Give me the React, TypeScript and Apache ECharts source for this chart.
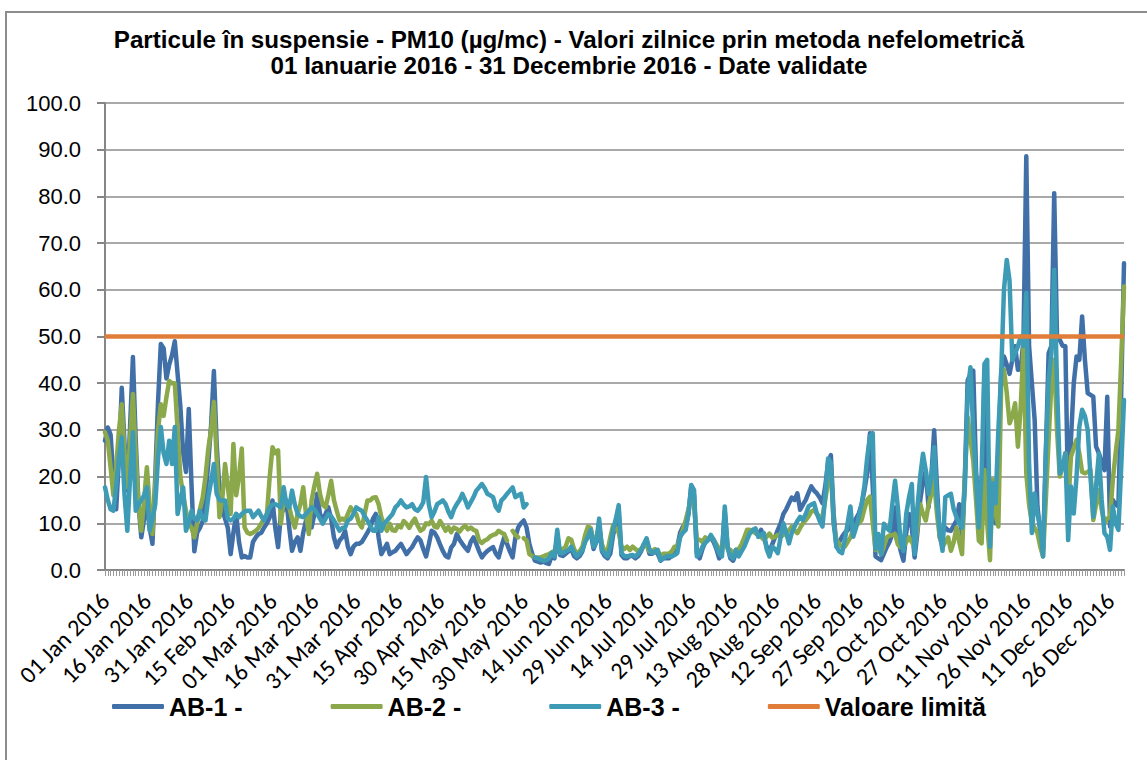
import React, { useEffect, useRef } from "react";
import * as echarts from "echarts";

const TITLE_LINE_1 = "Particule în suspensie - PM10 (µg/mc) - Valori zilnice prin metoda nefelometrică";
const TITLE_LINE_2 = "01 Ianuarie 2016 - 31 Decembrie 2016 - Date validate";
const SERIES_NAMES = ["AB-1 -", "AB-2 -", "AB-3 -", "Valoare limită"];
const MONTHS = ["Jan", "Feb", "Mar", "Apr", "May", "Jun", "Jul", "Aug", "Sep", "Oct", "Nov", "Dec"];
const YEAR = 2016;
const DAY_COUNT = 366;
const LIMIT = 50;
const Y_MIN = 0;
const Y_MAX = 100;
const Y_STEP = 10;

// AB-1 daily values (Jan..Dec)
const AB1 = [
  27.7, 30.5, 29, 20, 13, 24, 39, 27, 17, 31, 45.6, 28, 14, 7, 11, 14, 9, 5.6, 20, 36, 48.4, 47.5, 41, 44, 46, 49, 42, 35, 25, 21, 34.5,
  18, 4, 8, 9, 10.5, 16, 23, 31, 42.6, 27, 17, 13, 11, 9, 3.4, 8, 12, 6, 2.7, 3, 2.7, 2.7, 6, 7, 7.7, 8, 9.1, 10, 11.3,
  14.9, 9, 4.9, 12, 13, 14.9, 9, 4.1, 6, 7, 4.1, 8, 10.6, 9.5, 9.1, 12, 16.3, 12, 10.6, 12, 13.4, 11, 7, 4.9, 6.3, 7, 8.4, 5, 3.4, 5, 5.6,
  5.6, 6, 7, 8, 9.1, 11, 12, 7, 3.4, 4.5, 5.6, 3.4, 3.8, 4.1, 4.9, 5.6, 4.5, 3.4, 4.2, 4.9, 6, 7, 6.3, 4.5, 2.9, 5.5, 8.4, 8, 7, 5.5,
  4.1, 3, 2.7, 4.8, 5.6, 7.7, 6.5, 5.6, 4.8, 4.1, 6, 7, 5.6, 4, 2.7, 3.5, 4.1, 4.5, 4.9, 3.5, 2.7, 5, 7, 5.6, 4, 2.7, 7, 9.1, 10, 10.6, 9.1,
  5.6, 3.5, 2, 1.8, 1.6, 1.8, 1.5, 1.3, 3, 2.5, 7.5, 3.2, 3, 3.5, 4, 4.5, 3, 2.5, 3, 4, 6.5, 7.5, 8, 4.5, 6, 10, 4, 3, 2.5, 3.5,
  7.5, 10, 12.5, 3.2, 2.5, 2.5, 3, 3, 2.5, 3, 4, 5.5, 6, 3.5, 3.5, 4, 3.5, 2, 2.5, 2.5, 2.5, 3, 3.5, 5, 8, 9.3, 9.5, 12, 18, 16, 3.5,
  2.5, 4.5, 6, 6.5, 7, 6, 4.5, 2.5, 4, 12.5, 5, 2.5, 2, 3.6, 3.5, 4.5, 5.7, 7, 8, 8.6, 8, 7.5, 8.6, 7, 5, 4, 5.5, 7, 8.6, 10, 12,
  13, 14.3, 15.5, 15, 16.4, 12.9, 14, 15, 16.5, 17.9, 17, 16.4, 15.5, 14.3, 18, 23, 24.6, 12, 5, 6, 7.1, 8, 8.5, 9.3, 10, 11, 12.1, 14, 17, 20.7,
  29.3, 18, 2.9, 2.5, 2.1, 3.5, 4.9, 6, 7.7, 13.4, 7, 4.1, 2, 8, 12, 9.1, 2.7, 8, 14.9, 19, 21.3, 13.4, 20, 29.9, 18, 7, 8, 9.1, 8.5, 8.4, 9.5,
  10.6, 14.1, 7, 20, 40.6, 42, 42.7, 21.3, 12.1, 7.7, 41.3, 20.7, 10, 12, 10, 25, 42, 45.7, 44, 42, 45, 47.9, 42.9, 43, 49.3, 88.6, 48, 40, 32.1, 13.6,
  8, 4.3, 25, 46.4, 48, 80.7, 50, 49.3, 48, 47.9, 14.3, 27.9, 40, 45.7, 45, 54.3, 45, 37.9, 37.5, 37.1, 26.4, 25, 23, 21.4, 37.1, 9.3, 15, 14, 13.6, 38, 65.7,
];

// AB-2 daily values (Jan..Dec), null = missing
const AB2 = [
  29.5, 27.7, 22, 16, 22, 30, 35.5, 25, 17.7, 28, 37.7, 25, 14, 8.4, 15, 22, 14, 7.7, 18, 30, 35.5, 33, 37, 40.5, 40, 40, 30, 20, 16, 12.7, 10,
  9, 7, 10, 13, 15.5, 20, 26, 30, 36, 24, 11.3, 15, 22.7, 18, 12, 27, 16, 20, 26, 9.1, 8, 7.7, 8, 8.4, 9, 10, 11, 12, 20,
  26.3, 25, 25.6, 9.9, 14.9, 14, 13.4, 11, 9.1, 12, 14.1, 17.7, 12, 7.7, 14.9, 18, 20.6, 16.3, 14, 13.4, 16, 19.1, 15, 12.7, 10.6, 11, 10.6, 12, 13.4, 12.5, 12,
  10, 9.1, 12, 14.9, 14.9, 15.5, 15.6, 14.1, 11.3, 9.5, 8.4, 9.9, 8.5, 8.4, 9.5, 9.1, 10.5, 9.9, 9, 10.2, 11, 9.5, 8.4, 8.8, 10, 9.8, 10.6, 9.3, 9.1, 10.5,
  9.5, 8.4, 9.2, 8.1, 9.1, 8.8, 8.2, 9, 9.5, 8.7, 9.1, 8.6, 8.4, 6.3, 5.8, 6.3, 6.6, 7.2, 7.5, 7.7, 8.4, 8, 7.7, 6.3, null, 8.4, 7.5, 7, null, 6.8, 6.3,
  3.4, 3, 2.7, 2.7, 2.7, 2.9, 3.2, 3.4, 3.8, 4.1, 5.5, 4, 4.5, 5, 6.8, 6.5, 4.5, 3.5, 4, 5, 7.5, 9.3, 9, 6, 7, 9, 5.5, 4, 4, 7,
  9.6, 9, 8, 5, 4.5, 5, 4.3, 5, 4.5, 4, 4.5, 5, 5.5, 4, 4, 4.5, 4, 3, 3.5, 3.5, 3.5, 4, 5, 5, 7, 8.6, 10.7, 13, 16, 14, 6.5,
  6.5, 6, 7, 6.5, 7.2, 6.5, 5.5, 4.5, 5, 8, 4.5, 4.3, 3.5, 4.3, 4.5, 5.5, 7, 8.6, 8.6, 8.2, 7.9, 7.5, 7.1, 6.5, 7.1, 7.8, 6.9, 7.1, 7.5, 7.1, 7.5,
  8, 8.5, 9.3, 8.5, 7.9, 9, 10, 10.7, 11.5, 12.5, 12.9, 12, 11.4, 11.4, 15, 19, 21.4, 10, 6.4, 5.5, 5, 5, 6, 7, 8.6, 9.5, 10, 10.7, 13, 15,
  15.7, 10, 4.3, 5, 3.4, 5, 7, 7.4, 7.5, 7.7, 5.5, 4.9, 4.9, 6, 7, 6, 4.9, 9, 14.1, 12, 10.6, 14, 16.3, 19.1, 12, 7, 4.9, 6, 7, 4.1, 6,
  9.1, 6, 3.4, 20, 32.7, 28, 23.4, 14.9, 6.3, 5.7, 21.4, 10, 2.1, 19.3, 12, 9.3, 39.3, 42.9, 38, 31.4, 33, 35.7, 26.4, 35, 47.9, 20.7, 14, 10, 9, 7.9,
  5, 2.9, 15, 27.9, 40, 45, 30, 20, 22, 25, 14.3, 24.3, 26, 27.9, 25, 21, 20.7, 21, 21.4, 10.7, 14, 17.1, 13, 10, 11, 11.4, 19.3, 25, 30, 45, 60.7,
];

// AB-3 daily values (Jan..Dec), null = missing
const AB3 = [
  17.7, 15, 13, 12.7, 18, 24, 28.4, 16, 8.4, 20, 29.5, 12.7, 14, 15, 16, 17.7, 8.4, 11, 14, 24, 30.6, 25, 22.7, 27.7, 22.7, 30.6, 12, 15, 17.7, 8.4, 10,
  12.7, 11, 10.6, 12.7, 11, 10.6, 15.6, 19, 22.7, 16.3, 15, 14.9, 14.9, 11, 10.6, 11, 12, 11.3, 12, 12.5, 12.7, 12.7, 11.3, 12, 12.7, 11.5, 10.6, 12, 13.4,
  14, 14.1, 13.8, 13.4, 17.7, 14, 13.4, 17, 14, 12, 11.5, 11.3, 12, 12.7, 13.4, 13, 12, 11, 9.9, 11, 12, 11.5, 10.6, 9.5, 8.4, 9, 9.1, 10.6, 11, 12, 13.4,
  13, 12.7, 11.5, 10.6, 9.5, 8.4, 8.4, 11.3, 8.4, 10, 10.6, 11.3, 12, 13.4, 14, 14.9, 14, 13.4, 13.6, 14.1, 13, 12.7, 13.4, 14.5, 19.9, 14, 11.3, 12.5, 14.1, 14.5,
  14.9, 14.1, 12.5, 11.3, 13, 14.1, 15, 16.3, 15, 13.4, 14.5, 15.6, 17, 17.7, 18.4, 17.5, 16.3, 16, 15.6, 13.5, 12.7, 14.9, 15.5, 16.3, 17, 17.7, 15.6, 16, 16.3, 13.4, 14.1,
  null, null, 2.7, 2.5, 2.2, 2, 2.1, 2.5, 3.6, 2.9, 8.6, 3.6, 3.6, 4, 4.3, 5, 3.8, 2.9, 3.5, 4.3, 6, 7.1, 8.6, 5, 6, 11, 4.3, 3.5, 2.9, 5,
  8.6, 11, 13.9, 3.6, 3, 2.9, 3.1, 3.2, 2.9, 3.5, 4.3, 5.5, 6.8, 4.5, 3.6, 4, 4.3, 2.1, 2.5, 2.9, 3, 2.9, 3.2, 3.6, 7.1, 8, 8.6, 12, 18.2, 17.1, 2.9,
  3.5, 5, 5.8, 6.4, 7.5, 6.5, 5, 3.5, 2.9, 13.6, 5, 2.9, 2.5, 4.3, 2.9, 4, 5, 6.5, 7.9, 8.5, 8.9, 7.1, 7.5, 7.9, 4.5, 2.9, 5, 4.5, 3.6, 7, 10,
  8, 5.7, 8, 9.3, 10.5, 11.4, 10.7, 12, 13.6, 14, 14.3, 12.1, 10.5, 9.3, 16, 23.9, 22.9, 10, 5, 4, 3.6, 6.4, 10, 13.6, 7.1, 9, 11.4, 14, 17.9, 24,
  28.6, 29.3, 4.5, 7.7, 3.4, 9.9, 9, 8.4, 14, 19.1, 13.4, 6, 4.1, 12, 15.6, 18.4, 3.4, 13.4, 20, 24.9, 21.3, 16.3, 20, 26.3, 14.9, 8, 4.1, 15.6, 16, 16.3, 13,
  11.3, 9.9, 9.1, 17.7, 38, 43.4, 29.9, 19.9, 9.1, 20.7, 44.1, 45, 5, 18.6, 14.3, 30, 42, 60, 66.4, 62, 45, 46.4, 47.9, 50, 48, 59.3, 22.9, 7.9, 16.4, 12,
  9.3, 2.9, 25, 40.7, 46.4, 64.3, 40, 20.7, 22, 25, 6.4, 17.9, 12.1, 20, 30.7, 34.3, 33, 30, 20, 11.4, 18, 25, 15, 7.9, 7.1, 4.3, 13.6, 10, 8.6, 22, 36.4,
];

const COLORS = ["#4170a9", "#8ba94b", "#3d9bb5", "#e07d38"];

function buildCategories(): string[] {
  const out: string[] = [];
  for (let i = 0; i < DAY_COUNT; i++) {
    const d = new Date(YEAR, 0, 1 + i);
    const dd = String(d.getDate()).padStart(2, "0");
    out.push(`${dd} ${MONTHS[d.getMonth()]} ${d.getFullYear()}`);
  }
  return out;
}

export default function App() {
  const ref = useRef<HTMLDivElement>(null);

  useEffect(() => {
    document.body.style.margin = "0";
    if (!ref.current) return;
    const chart = echarts.init(ref.current, undefined, { renderer: "svg" });
    const categories = buildCategories();
    const font = "Liberation Sans, Arial, sans-serif";
    const gray = "#868686";

    const lineSeries = [AB1, AB2, AB3].map((data, i) => ({
      name: SERIES_NAMES[i],
      type: "line",
      data,
      symbol: "none",
      showSymbol: false,
      connectNulls: false,
      color: COLORS[i],
      lineStyle: { color: COLORS[i], width: 4.5, cap: "round", join: "round" },
      itemStyle: { color: COLORS[i] },
      z: 2 + i,
    }));

    chart.setOption({
      animation: false,
      backgroundColor: "#ffffff",
      graphic: [
        {
          type: "rect",
          shape: { x: 6, y: 12, width: 1170, height: 780 },
          style: { fill: "none", stroke: "#8c8c8c", lineWidth: 2 },
          z: 0,
          silent: true,
        },
        {
          type: "text",
          x: 569,
          y: 39,
          style: {
            text: TITLE_LINE_1,
            textAlign: "center",
            textVerticalAlign: "middle",
            font: `bold 24.2px ${font}`,
            fill: "#000",
          },
        },
        {
          type: "text",
          x: 569,
          y: 65.5,
          style: {
            text: TITLE_LINE_2,
            textAlign: "center",
            textVerticalAlign: "middle",
            font: `bold 24.2px ${font}`,
            fill: "#000",
          },
        },
      ],
      legend: {
        show: true,
        left: 112,
        top: 694,
        itemWidth: 52,
        itemHeight: 5,
        itemGap: 88,
        padding: 0,
        icon: "roundRect",
        data: SERIES_NAMES,
        textStyle: { fontFamily: font, fontWeight: "bold", fontSize: 25, color: "#000" },
      },
      grid: { left: 105, right: 23, top: 103, bottom: 190, containLabel: false },
      xAxis: {
        type: "category",
        data: categories,
        boundaryGap: false,
        axisLine: { show: true, lineStyle: { color: gray, width: 2 } },
        axisTick: { show: true, interval: 0, length: 6, lineStyle: { color: "#9a9a9a", width: 1 } },
        axisLabel: {
          interval: 14,
          rotate: 45,
          margin: 27,
          fontFamily: "Carlito, Lato, sans-serif",
          fontSize: 24,
          color: "#000",
        },
        splitLine: { show: false },
      },
      yAxis: {
        type: "value",
        min: Y_MIN,
        max: Y_MAX,
        interval: Y_STEP,
        axisLine: { show: true, lineStyle: { color: gray, width: 2 } },
        axisTick: { show: true, length: 8, lineStyle: { color: gray, width: 2 } },
        axisLabel: {
          margin: 24,
          fontFamily: font,
          fontSize: 22,
          color: "#000",
          formatter: (v: number) => v.toFixed(1),
        },
        splitLine: { show: true, lineStyle: { color: "#8c8c8c", width: 1.5 } },
      },
      series: [
        ...lineSeries,
        {
          name: SERIES_NAMES[3],
          type: "line",
          data: [],
          symbol: "none",
          color: COLORS[3],
          lineStyle: { color: COLORS[3], width: 4.5 },
          itemStyle: { color: COLORS[3] },
          z: 10,
          markLine: {
            silent: true,
            symbol: "none",
            label: { show: false },
            lineStyle: { color: COLORS[3], width: 4.5, type: "solid" },
            data: [{ yAxis: LIMIT }],
            z: 10,
          },
        },
      ],
    });

    return () => chart.dispose();
  }, []);

  return <div ref={ref} style={{ width: 1147, height: 760 }} />;
}
